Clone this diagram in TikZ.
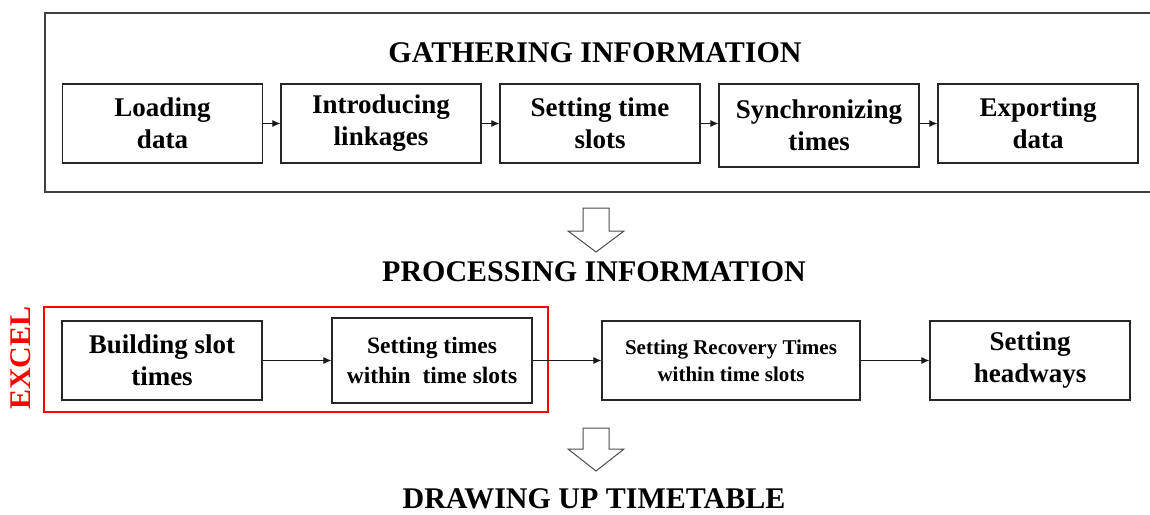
\documentclass[tikz,border=0pt]{standalone}
\usepackage{fontspec}
\setmainfont{Liberation Serif}
\usetikzlibrary{arrows.meta}
\begin{document}
\begin{tikzpicture}[x=1pt,y=-1pt,
  stepbox/.style={draw=black!85, line width=1.2pt, fill=white, align=center,
    inner sep=0pt, minimum width=200pt, minimum height=79pt,
    font=\bfseries\fontsize{27}{32}\selectfont},
  smallbox/.style={stepbox, font=\bfseries\fontsize{23.5}{30}\selectfont},
  tinybox/.style={stepbox, font=\bfseries\fontsize{21}{27}\selectfont},
  heading/.style={font=\bfseries\fontsize{30}{36}\selectfont, inner sep=0pt},
  flow/.style={line width=0.9pt, draw=black!90, -{Latex[length=8pt,width=7pt]}},
  blockarrow/.style={draw=black!70, line width=1pt, fill=white, line join=miter},
]
\useasboundingbox (0,0) rectangle (1150,514);
\clip (0,0) rectangle (1150,514);

% gathering stage frame
\draw[draw=black!75, line width=1.2pt] (45,13) rectangle (1153,192);
\node[heading] (gather) at (595,53) {GATHERING INFORMATION};

\node[stepbox] (load)  at (162.5,123.5) {Loading\\data};
\node[stepbox] (intro) at (381,123.5)   {Introducing\\linkages};
\node[stepbox] (slots) at (600,123.5)   {Setting time\\slots};
\node[stepbox, minimum height=83pt] (sync) at (819,125.5) {Synchronizing\\times};
\node[stepbox] (export) at (1038,123.5) {Exporting\\data};

\draw[flow] (load) -- (intro);
\draw[flow] (intro) -- (slots);
\draw[flow] (slots.east) -- (sync.west |- slots.east);
\draw[flow] (sync.east |- export.west) -- (export.west);

% stage transition
\draw[blockarrow] (583,208) -- (609,208) -- (609,231) -- (624,231) -- (596,252)
  -- (568,231) -- (583,231) -- cycle;

\node[heading] (process) at (594,272) {PROCESSING INFORMATION};

% spreadsheet part
\node[draw=red, line width=1.8pt, minimum width=504pt, minimum height=105pt,
  inner sep=0pt] (excel) at (296,359.5) {};
\node[heading, text=red, rotate=90] (excellabel) at (21,358) {EXCEL};

\node[stepbox] (build) at (162,360.5) {Building slot\\times};
\node[smallbox, minimum height=85pt] (within) at (432,360.5) {Setting times\\within\ \ time slots};
\node[tinybox, minimum width=258pt] (recovery) at (731,360.5) {Setting Recovery Times\\within time slots};
\node[stepbox] (headway) at (1030,360.5) {Setting\\headways};

\draw[flow] (build) -- (within);
\draw[flow] (within) -- (recovery);
\draw[flow] (recovery) -- (headway);

% stage transition
\draw[blockarrow] (583,428) -- (609,428) -- (609,449) -- (624,449) -- (596,471)
  -- (568,449) -- (583,449) -- cycle;

\node[heading] (draw) at (594,498.5) {DRAWING UP TIMETABLE};
\end{tikzpicture}
\end{document}
